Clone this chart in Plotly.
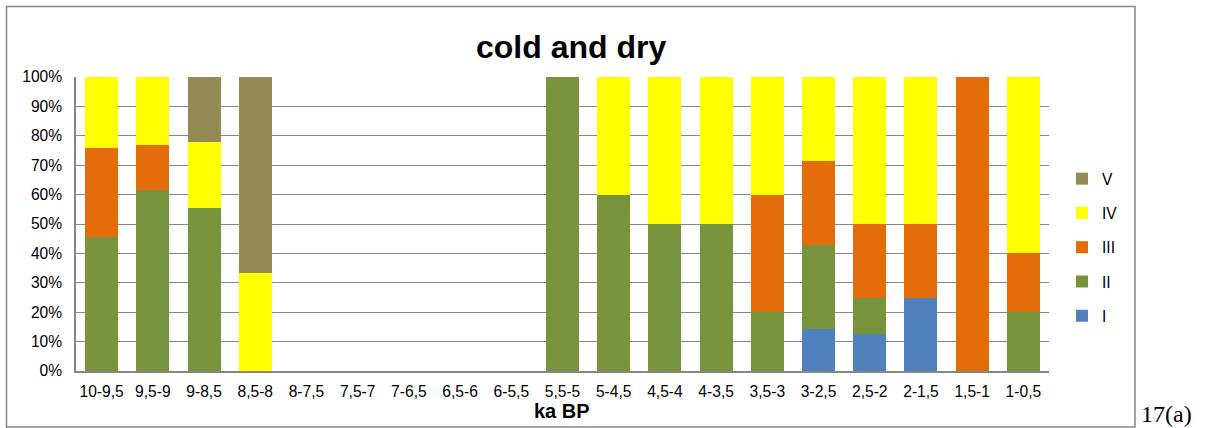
import plotly.graph_objects as go

categories = ["10-9,5", "9,5-9", "9-8,5", "8,5-8", "8-7,5", "7,5-7", "7-6,5", "6,5-6",
              "6-5,5", "5,5-5", "5-4,5", "4,5-4", "4-3,5", "3,5-3", "3-2,5", "2,5-2",
              "2-1,5", "1,5-1", "1-0,5"]

series_names = ["I", "II", "III", "IV", "V"]
I_vals   = [0, 0, 0, 0, 0, 0, 0, 0, 0, 0, 0, 0, 0, 0, 14.3, 12.5, 25, 0, 0]
II_vals  = [45.5, 61.5, 55.6, 0, 0, 0, 0, 0, 0, 100, 60, 50, 50, 20, 28.6, 12.5, 0, 0, 20]
III_vals = [30.3, 15.4, 0, 0, 0, 0, 0, 0, 0, 0, 0, 0, 0, 40, 28.6, 25, 25, 100, 20]
IV_vals  = [24.2, 23.1, 22.2, 33.3, 0, 0, 0, 0, 0, 0, 40, 50, 50, 40, 28.5, 50, 50, 0, 60]
V_vals   = [0, 0, 22.2, 66.7, 0, 0, 0, 0, 0, 0, 0, 0, 0, 0, 0, 0, 0, 0, 0]

colors = ["#4F81BD", "#77933C", "#E46C0A", "#FFFF00", "#948A54"]
all_vals = [I_vals, II_vals, III_vals, IV_vals, V_vals]

y_ticks = list(range(0, 101, 10))

FONT = "Liberation Sans, Arial, sans-serif"

fig = go.Figure()
n = len(series_names)
for i, (name, vals, col) in enumerate(zip(series_names, all_vals, colors)):
    fig.add_trace(go.Bar(x=categories, y=vals, name=name, legendgroup=name,
                         legendrank=n - i,
                         marker=dict(color=col, line=dict(width=0))))

# plot area pixels
L, R, T, B = 76, 1049, 77, 371
W, H = 1206, 428
pw, ph = R - L, B - T

def px(x):
    return (x - L) / pw

def py(y):
    return (B - y) / ph

fig.update_layout(
    width=W, height=H,
    margin=dict(l=L, r=W - R, t=T, b=H - B, pad=0),
    barmode="stack", bargap=0.355,
    plot_bgcolor="white", paper_bgcolor="white",
    font=dict(family=FONT, size=15.6, color="#000000"),
    showlegend=True,
    legend=dict(x=px(1062), y=py(162), xanchor="left", yanchor="top",
                traceorder="grouped", tracegroupgap=11,
                font=dict(size=15.6, color="#000000"), itemwidth=30,
                bgcolor="rgba(0,0,0,0)"),
    xaxis=dict(showgrid=False, showline=True, linecolor="#868686", linewidth=1.5,
               ticks="", tickfont=dict(size=15.6), ticklabelstandoff=6),
    yaxis=dict(range=[0, 100], tickvals=y_ticks, ticktext=[f"{v}%" for v in y_ticks],
               showgrid=True, gridcolor="#868686", gridwidth=1.3,
               showline=True, linecolor="#868686", linewidth=1.5,
               ticks="", tickfont=dict(size=15.6), ticklabelstandoff=9,
               zeroline=False),
    shapes=[dict(type="rect", xref="paper", yref="paper",
                 x0=px(6.5), x1=px(1135), y0=py(427), y1=py(6.5),
                 line=dict(color="#868686", width=1.5), fillcolor="rgba(0,0,0,0)")],
    annotations=[
        dict(text="<b>cold and dry</b>", xref="paper", yref="paper",
             x=px(571), y=py(47), xanchor="center", yanchor="middle",
             showarrow=False, font=dict(family=FONT, size=32, color="#000000")),
        dict(text="<b>ka BP</b>", xref="paper", yref="paper",
             x=px(562), y=py(411), xanchor="center", yanchor="middle",
             showarrow=False, font=dict(family=FONT, size=20, color="#000000")),
        dict(text="17(a)", xref="paper", yref="paper",
             x=px(1139), y=py(414), xanchor="left", yanchor="middle",
             showarrow=False, font=dict(family="Liberation Serif, Times New Roman, serif", size=24, color="#000000")),
    ],
)

fig.write_html("out.html", config={"displayModeBar": False},
               post_script="document.body.style.margin='0';")
